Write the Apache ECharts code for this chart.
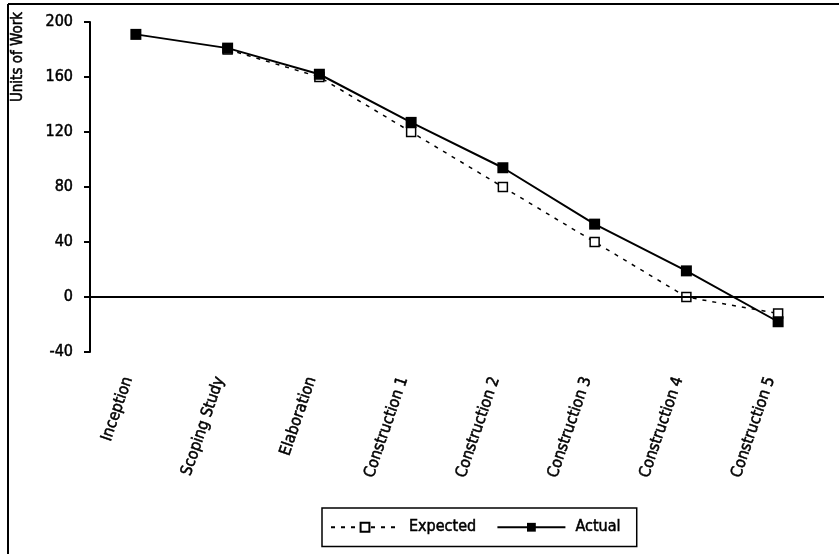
<!DOCTYPE html>
<html>
<head>
<meta charset="utf-8">
<script src="https://cdn.jsdelivr.net/npm/echarts@6/dist/echarts.min.js"></script>
<style>
html,body{margin:0;padding:0;background:#fff;}
#main{width:839px;height:554px;}
</style>
</head>
<body>
<div id="main"></div>
<script>
const categories = ['Inception','Scoping Study','Elaboration','Construction 1','Construction 2','Construction 3','Construction 4','Construction 5'];
const expected = ['-', 180, 160, 120, 80, 40, 0, -12];
const actual = [191, 181, 162, 127, 94, 53, 19, -18];
const yTicks = [-40, 0, 40, 80, 120, 160, 200];

const FONT = '"DejaVu Sans Condensed", "Liberation Sans Narrow", sans-serif';
const TB = {textBorderColor:'#000', textBorderWidth:0.5};
const chart = echarts.init(document.getElementById('main'), null, {renderer:'canvas'});
chart.setOption({
  backgroundColor:'#fff',
  animation:false,
  textStyle:{fontFamily:FONT, color:'#000'},
  graphic:[
    {type:'line', shape:{x1:8,y1:4,x2:839,y2:4}, style:{stroke:'#000', lineWidth:2}},
    {type:'line', shape:{x1:8,y1:4,x2:8,y2:554}, style:{stroke:'#000', lineWidth:2}},
    {type:'text', x:18, y:57, rotation:Math.PI/2,
     style:{text:'Units of Work', font:'15px '+FONT, fill:'#000', stroke:'#000', lineWidth:0.5, align:'center', verticalAlign:'middle'}}
  ],
  grid:{left:90, right:15, top:22, bottom:202, containLabel:false},
  legend:{
    left:322, top:508,
    padding:[11,16,11,8],
    borderColor:'#000', borderWidth:1.5,
    itemWidth:68, itemHeight:11, itemGap:20,
    textStyle:Object.assign({fontFamily:FONT, fontSize:16, color:'#000', padding:[0,0,0,5]}, TB),
    data:['Expected','Actual']
  },
  xAxis:{
    type:'category', data:categories, boundaryGap:true,
    axisLine:{show:false, onZero:false}, axisTick:{show:false},
    axisLabel:Object.assign({rotate:71, margin:28, verticalAlign:'bottom', fontSize:16, color:'#000', fontFamily:FONT, interval:0}, TB)
  },
  yAxis:{
    type:'value', min:-40, max:200, interval:40,
    axisLine:{show:true, lineStyle:{color:'#000', width:2}},
    axisTick:{show:true, inside:false, length:6, lineStyle:{color:'#000', width:2}},
    axisLabel:Object.assign({fontSize:16, color:'#000', fontFamily:FONT, margin:17,
      formatter:function(v){return yTicks.indexOf(v)>=0 ? String(v) : '';}}, TB),
    splitLine:{show:false}
  },
  series:[
    {
      name:'Expected', type:'line', data:expected, z:2,
      symbol:'rect', symbolSize:9, showAllSymbol:true,
      lineStyle:{color:'#000', width:1.5, type:[4,6]},
      itemStyle:{color:'#fff', borderColor:'#000', borderWidth:1.5},
      markLine:{
        silent:true, symbol:['none','none'], label:{show:false},
        lineStyle:{color:'#000', width:2, type:'solid'},
        data:[{yAxis:0}]
      }
    },
    {
      name:'Actual', type:'line', data:actual, z:3,
      symbol:'rect', symbolSize:11, showAllSymbol:true,
      lineStyle:{color:'#000', width:2},
      itemStyle:{color:'#000', borderColor:'#000', borderWidth:0}
    }
  ]
});
</script>
</body>
</html>
